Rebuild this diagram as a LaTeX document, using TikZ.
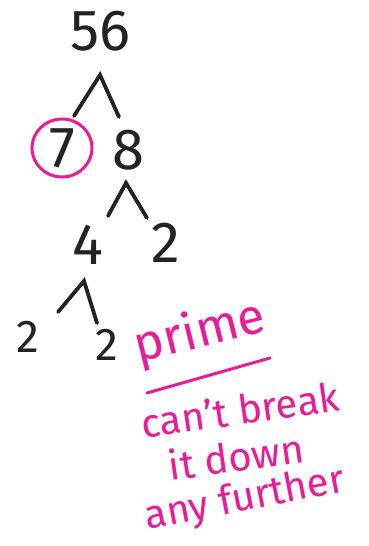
\documentclass[tikz,border=0pt]{standalone}
\usepackage{fontspec}
\setmainfont{Fira Sans}
\definecolor{ink}{RGB}{35,35,35}
\definecolor{marker}{RGB}{232,28,150}

\begin{document}
\begin{tikzpicture}[x=.5pt,y=-.5pt,line width=1.9pt,line cap=round,
  num/.style={text=ink,inner sep=0pt,font=\fontsize{29}{30}\selectfont},
  low/.style={text=ink,inner sep=0pt,font=\fontsize{23}{24}\selectfont},
  note/.style={text=marker,inner sep=0pt,font=\fontsize{20}{21}\selectfont}]
 \useasboundingbox (0,0) rectangle (369,546);
 % the tree
 \node[num] (n56) at (100,31) {56};
 \node[num] (n7) at (62,148) {7};
 \node[num] (n8) at (128,150) {8};
 \node[num] (n4) at (88,245) {4};
 \node[num] (n2a) at (166,243) {2};
 \node[low] (n2b) at (28,337) {2};
 \node[low] (n2c) at (107,345) {2};
 \coordinate (t1) at (100,75); \coordinate (l1) at (74,116); \coordinate (r1) at (119,117);
 \coordinate (t2) at (126,183); \coordinate (l2) at (108,216); \coordinate (r2) at (147,218);
 \coordinate (t3) at (84,281); \coordinate (l3) at (58,312); \coordinate (r3) at (97,323);
 \draw[ink] (l1)--(t1)--(r1);
 \draw[ink] (l2)--(t2)--(r2);
 \draw[ink] (l3)--(t3)--(r3);
 \draw[marker,line width=1.5pt] (n7) ellipse (30 and 29);
 % why 2 stops
 \node[note,font=\fontsize{25}{26}\selectfont,rotate=14] (prime) at (200,333) {prime};
 \coordinate (u1) at (147,393); \coordinate (u2) at (270,358);
 \draw[marker,line width=1.5pt] (u1)--(u2);
 \node[note,rotate=8] (why1) at (240,410) {can't break};
 \node[note,rotate=8] (why2) at (236,456) {it down};
 \node[note,rotate=11] (why3) at (245,500) {any further};
\end{tikzpicture}
\end{document}
